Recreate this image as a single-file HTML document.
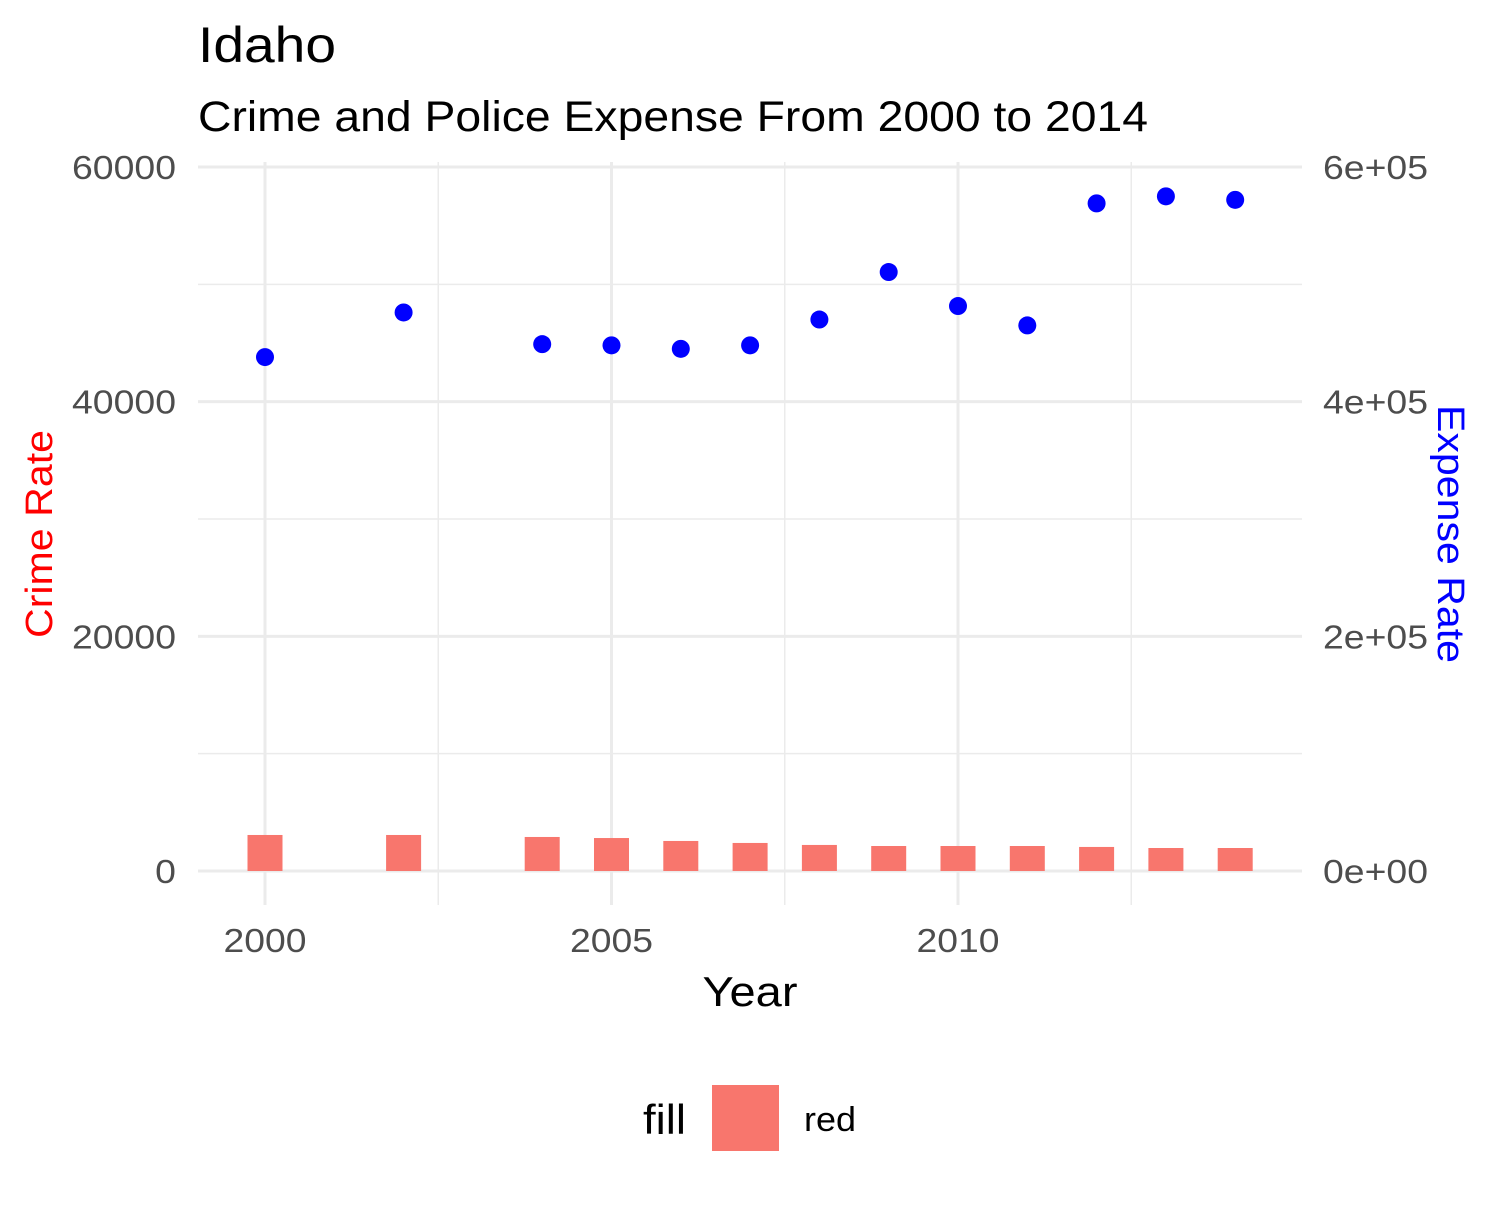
<!DOCTYPE html>
<html><head><meta charset="utf-8"><style>
body{margin:0;background:#fff;font-family:"Liberation Sans",Arial,sans-serif}
</style></head><body>
<svg width="1500" height="1200" xmlns="http://www.w3.org/2000/svg" font-family="Liberation Sans, Arial, sans-serif">
<text x="198" y="62" font-size="50" textLength="138" lengthAdjust="spacingAndGlyphs">Idaho</text>
<text x="198" y="131" font-size="43" textLength="950" lengthAdjust="spacingAndGlyphs">Crime and Police Expense From 2000 to 2014</text>
<g id="grid"></g>
<g id="bars"></g>
<g id="points"></g>
<g id="axes"></g>
<text x="750" y="1006" font-size="42" text-anchor="middle" textLength="95" lengthAdjust="spacingAndGlyphs">Year</text>
<text transform="translate(52,534) rotate(-90)" font-size="38" fill="red" text-anchor="middle" textLength="208" lengthAdjust="spacingAndGlyphs">Crime Rate</text>
<text transform="translate(1438,534) rotate(90)" font-size="38" fill="blue" text-anchor="middle" textLength="258" lengthAdjust="spacingAndGlyphs">Expense Rate</text>
<g>
<text x="643" y="1134" font-size="42" textLength="43" lengthAdjust="spacingAndGlyphs">fill</text>
<rect x="712" y="1085" width="67" height="66" fill="#F8766D"/>
<text x="804" y="1131" font-size="34" textLength="52" lengthAdjust="spacingAndGlyphs">red</text>
</g>
</svg>
<script>
const years=[2000,2002,2004,2005,2006,2007,2008,2009,2010,2011,2012,2013,2014];
const crime=[3070,3070,2900,2810,2560,2390,2220,2130,2130,2130,2050,1960,1960];
const expense=[438000,476000,449000,448000,445000,448000,470000,510500,481500,465000,569000,575000,572000];
const xTicks=[2000,2005,2010];
const xMinor=[2002.5,2007.5,2012.5];
const yTicks=[0,20000,40000,60000];
const yMinor=[10000,30000,50000];
const yRightLabels=["0e+00","2e+05","4e+05","6e+05"];
const NS="http://www.w3.org/2000/svg";
const X=v=>265+(v-2000)*69.3;
const Y=v=>871-v*704/60000;
const Y2=v=>871-v*704/600000;
function mk(tag,attrs,parent,txt){const e=document.createElementNS(NS,tag);for(const k in attrs)e.setAttribute(k,attrs[k]);if(txt!==undefined)e.textContent=txt;document.getElementById(parent).appendChild(e);return e;}
yMinor.forEach(v=>{const e=mk('line',{x1:198,x2:1302,y1:Y(v),y2:Y(v),stroke:'#ebebeb','stroke-width':1.5},'grid');

});
xMinor.forEach(v=>{const e=mk('line',{x1:X(v),x2:X(v),y1:162,y2:905,stroke:'#ebebeb','stroke-width':1.5},'grid');

});
yTicks.forEach((v,i)=>{const e=mk('line',{x1:198,x2:1302,y1:Y(v),y2:Y(v),stroke:'#ebebeb','stroke-width':3},'grid');


const s=String(v);
const t=mk('text',{x:176,y:Y(v)+12,'font-size':33,fill:'#4d4d4d','text-anchor':'end',textLength:s.length*20.8,lengthAdjust:'spacingAndGlyphs'},'axes',s);


const t2=mk('text',{x:1323,y:Y(v)+12,'font-size':33,fill:'#4d4d4d',textLength:105,lengthAdjust:'spacingAndGlyphs'},'axes',yRightLabels[i]);

});
xTicks.forEach(v=>{const e=mk('line',{x1:X(v),x2:X(v),y1:162,y2:905,stroke:'#ebebeb','stroke-width':3},'grid');


const t=mk('text',{x:X(v),y:952,'font-size':33,fill:'#4d4d4d','text-anchor':'middle',textLength:83,lengthAdjust:'spacingAndGlyphs'},'axes',String(v));

});
years.forEach((yr,i)=>{const b=mk('rect',{x:X(yr)-17.5,y:Y(crime[i]),width:35,height:871-Y(crime[i]),fill:'#F8766D'},'bars');


const c=mk('circle',{cx:X(yr),cy:Y2(expense[i]),r:9,fill:'blue'},'points');

});
</script>
</body></html>
